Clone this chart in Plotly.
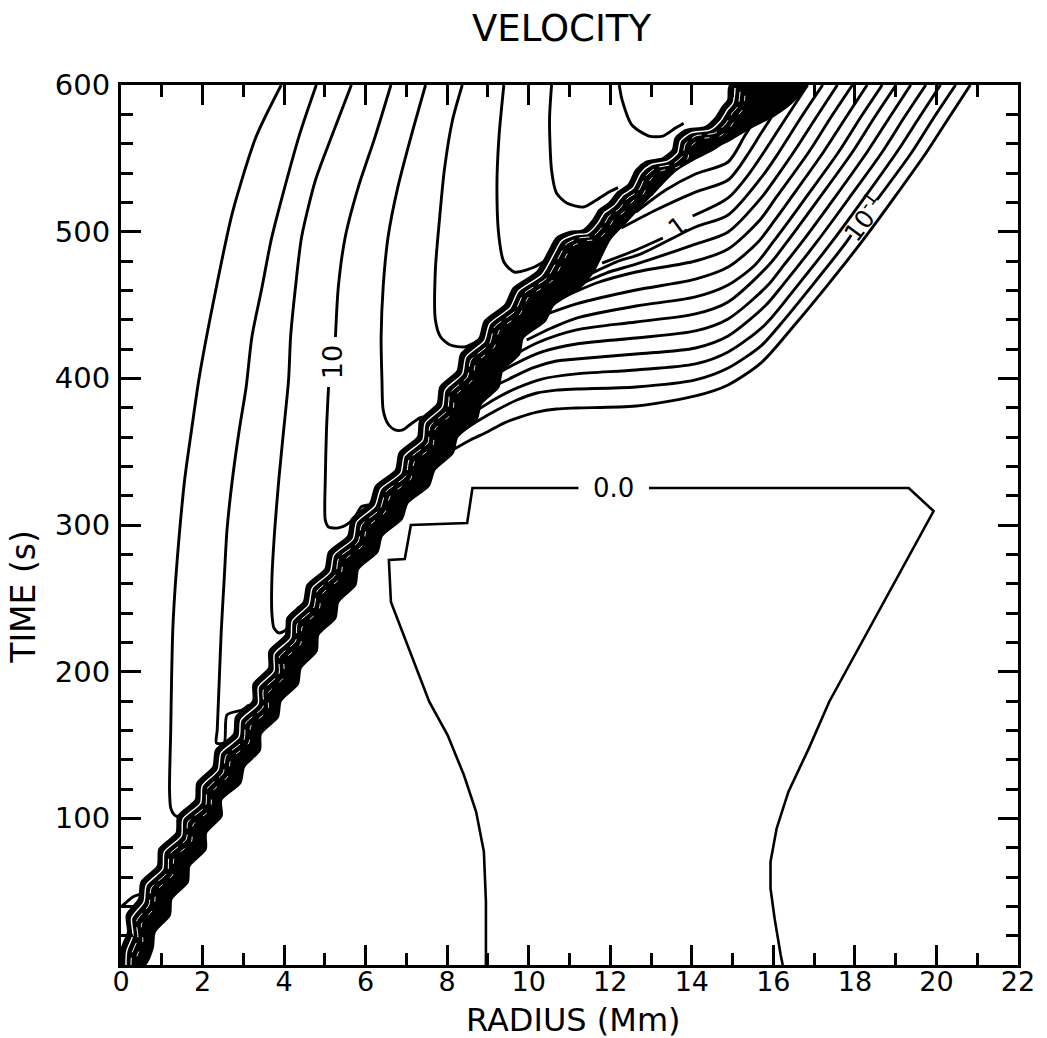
import plotly.graph_objects as go

# ---------------- axes / ticks ----------------
x_ticks = [0, 2, 4, 6, 8, 10, 12, 14, 16, 18, 20, 22]
t_ticks = [100, 200, 300, 400, 500, 600]

# ---------------- shock band (upper-left edge, bottom -> top) ----------------
band_ul_x = [0.00, 0.02, 0.17, 0.14, 0.44, 0.50, 0.90, 0.94, 1.36, 1.40, 1.83, 1.87, 2.26, 2.33, 2.77, 2.82,
             3.24, 3.25, 3.63, 3.64, 4.04, 4.08, 4.48, 4.57, 5.01, 5.10, 5.57, 5.66, 6.11, 6.25, 6.74, 6.83,
             7.28, 7.34, 7.76, 7.83, 8.25, 8.34, 8.79, 8.92, 9.42, 9.63, 10.20, 10.51, 10.68, 11.00, 11.34,
             11.58, 11.73, 11.97, 12.19, 12.44, 12.63, 12.87, 13.29, 13.53, 13.60, 13.85, 14.33, 14.58, 14.75,
             14.89, 14.94]
band_ul_t = [2.0, 11.6, 22.5, 34.1, 45.0, 56.6, 67.5, 79.1, 90.0, 101.6, 112.5, 124.1, 135.0, 146.6, 157.5, 169.1,
             180.0, 191.6, 202.5, 214.1, 225.0, 236.6, 247.5, 259.1, 270.0, 281.6, 292.5, 304.1, 315.0, 326.6,
             337.5, 349.1, 360.0, 371.6, 382.5, 394.1, 405.0, 416.6, 427.5, 439.1, 450.0, 461.6, 472.5, 487.5,
             495.7, 499.8, 501.1, 508.0, 514.8, 519.5, 527.0, 531.8, 542.0, 547.5, 550.2, 555.7, 563.9, 569.3,
             571.4, 577.5, 585.0, 589.8, 600.0]
# lower-right edge, top -> bottom
band_lr_x = [16.77, 16.52, 16.04, 15.43, 14.94, 14.46, 13.92, 13.41, 13.12, 12.75, 12.39, 12.00, 11.58, 11.25,
             10.61, 10.40, 9.86, 9.77, 9.35, 9.26, 8.83, 8.72, 8.25, 8.14, 7.69, 7.55, 7.03, 6.89, 6.40, 6.29,
             5.82, 5.75, 5.33, 5.26, 4.84, 4.80, 4.41, 4.34, 3.92, 3.85, 3.43, 3.41, 3.02, 2.93, 2.46, 2.47,
             2.09, 2.08, 1.68, 1.64, 1.24, 1.20, 0.83, 0.78, 0.58, 0.00]
band_lr_t = [600.0, 589.8, 579.5, 570.7, 562.5, 555.7, 547.5, 538.6, 528.4, 517.5, 506.6, 495.0, 472.5, 461.6,
             450.0, 439.1, 427.5, 416.6, 405.0, 394.1, 382.5, 371.6, 360.0, 349.1, 337.5, 326.6, 315.0, 304.1,
             292.5, 281.6, 270.0, 259.1, 247.5, 236.6, 225.0, 214.1, 202.5, 191.6, 180.0, 169.1, 157.5, 146.6,
             135.0, 124.1, 112.5, 101.6, 90.0, 79.1, 67.5, 56.6, 45.0, 34.1, 22.5, 11.6, 0.0, 0.0]

# ---------------- U-shaped contours behind the front ----------------
u0_x = [0.00, 0.29, 0.58, 0.71]
u0_t = [39.5, 46.4, 49.8, 58.0]
u1_x = [3.93, 3.31, 2.73, 2.29, 1.92, 1.73, 1.56, 1.44, 1.34, 1.27, 1.24, 1.22, 1.19, 1.22, 1.31, 1.48, 1.68, 1.80]
u1_t = [600, 564.5, 512.7, 455.4, 400.9, 364.8, 330.7, 296.6, 262.5, 228.4, 194.3, 160.2, 119.3, 107.0, 102.3,
        100.2, 102.3, 109.0]
u2_x = [4.79, 4.36, 3.70, 3.46, 3.21, 3.07, 2.90, 2.73, 2.60, 2.53, 2.46, 2.41, 2.36, 2.34, 2.53, 2.60, 2.97, 3.14]
u2_t = [600, 564.5, 496.4, 462.3, 428.2, 394.1, 364.8, 330.7, 296.6, 262.5, 228.4, 194.3, 160.2, 151.4, 151.4,
        170.5, 173.9, 177.3]
u3_x = [5.65, 5.16, 4.77, 4.43, 4.28, 4.16, 4.11, 3.99, 3.87, 3.77, 3.70, 3.70, 3.75, 3.87, 4.04, 4.16, 4.36]
u3_t = [600, 564.5, 535.2, 496.4, 462.3, 428.2, 398.9, 364.8, 330.7, 296.6, 262.5, 240.0, 229.8, 226.4, 228.4,
        235.2, 244.1]
u4a_x = [6.62, 6.23, 5.82, 5.50, 5.33, 5.26]
u4a_t = [600, 564.5, 530.4, 496.4, 462.3, 428.2]
u4b_x = [5.09, 5.04, 5.01, 5.01, 5.09, 5.33, 5.52, 5.74, 5.89, 6.06]
u4b_t = [394.1, 364.8, 330.7, 303.4, 298.6, 298.0, 300.0, 305.5, 312.3, 313.6]
u5_x = [7.47, 7.11, 6.79, 6.55, 6.43, 6.38, 6.40, 6.43, 6.55, 6.72, 6.91, 7.11, 7.33, 7.42]
u5_t = [600, 564.5, 530.4, 496.4, 462.3, 428.2, 398.9, 378.4, 368.9, 364.8, 364.8, 368.9, 373.0, 373.6]
u6_x = [8.37, 8.13, 7.93, 7.81, 7.71, 7.71, 7.84, 8.08, 8.42, 8.66, 8.98]
u6_t = [600, 576.0, 542.0, 508.0, 474.0, 440.0, 428.2, 422.7, 421.4, 424.1, 429.5]
u7_x = [9.39, 9.27, 9.22, 9.27, 9.39, 9.64, 9.95, 10.32, 10.61]
u7_t = [600, 564.5, 530.4, 496.4, 479.3, 472.5, 473.9, 478.6, 486.1]
u8_x = [10.56, 10.51, 10.56, 10.68, 10.93, 11.34, 11.66, 11.97, 12.19]
u8_t = [600, 576.0, 542.0, 526.4, 519.5, 516.8, 521.6, 527.0, 530.0]
u9_x = [12.22, 12.29, 12.53, 12.95, 13.29, 13.60, 13.80]
u9_t = [600, 589.8, 572.7, 565.2, 565.2, 570.7, 574.0]

# ---------------- contours ahead of the front ----------------
f1_x = [8.13, 8.57, 8.98, 9.39, 9.78, 10.20, 10.68, 11.17, 12.63, 14.09, 14.89, 15.72, 16.52, 17.33, 18.16, 18.96,
        19.76, 20.30, 20.83]
f1_t = [351.1, 358.0, 363.4, 369.5, 373.6, 377.0, 379.1, 379.8, 381.1, 388.0, 395.5, 411.1, 436.4, 463.6, 492.8,
        523.0, 554.3, 577.5, 600]
f2a_x = [8.40, 8.79, 9.22, 9.71, 10.20, 10.68, 11.17, 12.63, 14.09, 14.89, 15.72, 16.16, 16.96, 17.79, 17.91]
f2a_t = [364.8, 371.6, 378.4, 385.2, 390.0, 392.0, 392.7, 394.1, 398.9, 407.0, 422.7, 436.4, 463.6, 492.8, 497.7]
f2b_x = [18.54, 19.40, 19.93, 20.47]
f2b_t = [521.6, 554.3, 577.5, 600]
f3_x = [8.74, 9.22, 9.71, 10.32, 11.17, 12.63, 14.09, 14.89, 15.79, 16.60, 17.43, 18.23, 19.03, 19.57, 20.10]
f3_t = [378.4, 386.6, 393.4, 399.5, 403.0, 405.7, 409.8, 418.0, 436.4, 463.6, 492.8, 523.0, 554.3, 577.5, 600]
f4_x = [9.05, 9.47, 10.08, 10.68, 11.17, 12.63, 14.09, 14.89, 15.82, 16.23, 17.06, 17.86, 18.67, 19.20, 19.74]
f4_t = [393.4, 398.9, 407.0, 411.8, 413.2, 416.6, 420.7, 428.9, 450.0, 463.6, 492.8, 523.0, 554.3, 577.5, 600]
f5_x = [9.35, 9.71, 10.32, 11.17, 12.63, 14.09, 14.89, 15.87, 16.26, 16.70, 17.50, 18.30, 18.84, 19.37]
f5_t = [405.0, 410.5, 418.0, 423.4, 427.5, 432.3, 440.5, 463.6, 477.3, 492.8, 523.0, 554.3, 577.5, 600]
f6_x = [9.69, 10.20, 11.17, 12.63, 14.09, 14.89, 15.89, 16.33, 17.13, 17.94, 18.47, 19.01]
f6_t = [416.6, 424.1, 433.0, 438.4, 443.9, 452.1, 477.3, 492.8, 523.0, 554.3, 577.5, 600]
f7_x = [9.95, 10.56, 11.17, 12.63, 14.09, 14.89, 15.55, 15.99, 16.40, 16.79, 17.60, 18.13, 18.67]
f7_t = [426.1, 434.3, 441.1, 449.3, 455.5, 463.6, 477.3, 492.8, 508.0, 523.0, 554.3, 577.5, 600]
f8_x = [10.39, 11.17, 12.63, 14.09, 14.89, 15.62, 16.04, 16.43, 17.23, 17.77, 18.30]
f8_t = [443.2, 450.7, 460.2, 467.7, 475.9, 492.8, 508.0, 523.0, 554.3, 577.5, 600]
f9_x = [10.81, 11.66, 12.63, 14.09, 14.89, 15.67, 16.06, 16.87, 17.40, 17.94]
f9_t = [454.8, 465.0, 472.5, 480.0, 488.2, 508.0, 523.0, 554.3, 577.5, 600]
f10_x = [11.12, 11.90, 12.63, 14.09, 14.89, 15.70, 16.11, 16.50, 17.04, 17.57]
f10_t = [462.3, 471.8, 477.9, 491.5, 499.8, 523.0, 538.6, 554.3, 577.5, 600]
f11_x = [11.46, 12.14, 12.75, 14.09, 14.89, 15.75, 16.14, 16.67, 17.21]
f11_t = [470.5, 479.3, 484.8, 503.2, 511.4, 538.6, 554.3, 577.5, 600]
f12a_x = [11.80, 12.63, 13.29]
f12a_t = [478.6, 487.5, 495.7]
f12b_x = [14.02, 14.89, 15.38, 15.77, 16.31, 16.84]
f12b_t = [510.7, 523.0, 538.6, 554.3, 577.5, 600]
f13_x = [12.27, 13.12, 14.09, 14.89, 15.41, 15.67, 15.94, 16.48]
f13_t = [502.5, 514.8, 527.0, 535.2, 554.3, 565.9, 577.5, 600]
f14_x = [12.63, 13.36, 14.09, 14.89, 15.31, 15.58, 15.87, 16.11]
f14_t = [513.4, 528.4, 539.3, 547.5, 565.9, 577.5, 589.8, 600]
f15_x = [13.00, 13.60, 14.09, 14.63, 15.21, 15.50, 15.75]
f15_t = [525.0, 542.0, 550.2, 558.4, 577.5, 589.8, 600]

# ---------------- zero-velocity contour ----------------
zero_a_x = [8.95, 8.95, 8.90, 8.71, 8.41, 8.01, 7.56, 6.62, 6.57, 6.96, 7.11, 8.49, 8.62, 11.22]
zero_a_t = [0, 43.2, 77.2, 104.5, 129.5, 156.8, 179.5, 247.5, 276.1, 276.8, 300.0, 301.4, 325.2, 325.2]
zero_b_x = [12.95, 19.32, 19.93, 17.37, 16.87, 16.37, 16.08, 15.93, 15.93, 16.03, 16.18, 16.23]
zero_b_t = [325.2, 325.2, 309.5, 179.5, 147.7, 118.2, 93.1, 70.4, 52.2, 31.8, 6.8, 0]

# ---------------- contour labels ----------------
label_text = ["10", "0.0", "1", "10<sup>-1</sup>"]
label_x = [5.18, 12.09, 13.66, 18.22]
label_t = [411.1, 325.2, 503.2, 509.6]
label_angle = [-90, 0, -36, -53]
label_size = [27, 26, 25, 25]

# =====================================================================
FONT = "DejaVu Sans, Liberation Sans, Arial, sans-serif"
PX_PER_MM = 904 / 22.0
PX_PER_S = 880 / 600.0

fig = go.Figure()


def line(x, t, width=2.9, shape="spline", color="black", xa="x", ya="y", dash="solid", smoothing=0.8):
    fig.add_trace(go.Scatter(x=x, y=t, mode="lines", xaxis=xa, yaxis=ya, hoverinfo="skip", showlegend=False,
                             line=dict(color=color, width=width, shape=shape, smoothing=smoothing, dash=dash)))


# shock band as a filled region
fig.add_trace(go.Scatter(x=band_ul_x + band_lr_x, y=band_ul_t + band_lr_t, mode="lines", fill="toself",
                         fillcolor="black", hoverinfo="skip", showlegend=False,
                         line=dict(color="black", width=2, shape="spline", smoothing=0.7)))

for xs, ts in [(u0_x, u0_t), (u1_x, u1_t), (u2_x, u2_t), (u3_x, u3_t), (u4a_x, u4a_t), (u4b_x, u4b_t),
               (u5_x, u5_t), (u6_x, u6_t), (u7_x, u7_t), (u8_x, u8_t), (u9_x, u9_t)]:
    line(xs, ts, smoothing=0.7)

for xs, ts in [(f1_x, f1_t), (f2a_x, f2a_t), (f2b_x, f2b_t), (f3_x, f3_t), (f4_x, f4_t), (f5_x, f5_t),
               (f6_x, f6_t), (f7_x, f7_t), (f8_x, f8_t), (f9_x, f9_t), (f10_x, f10_t), (f11_x, f11_t),
               (f12a_x, f12a_t), (f12b_x, f12b_t), (f13_x, f13_t), (f14_x, f14_t), (f15_x, f15_t)]:
    line(xs, ts, smoothing=0.8)

line(zero_a_x, zero_a_t, width=2.6, shape="linear")
line(zero_b_x, zero_b_t, width=2.6, shape="linear")

layout_extra = {}
# thin white gaps between the packed contours of the front (same edge, drawn slightly inside the band)
streaks = [(5, 3, 1.4, "solid"), (10, 6, 1.0, "10px,6px"), (15, 9, 0.9, "5px,10px")]
for i, (dxp, dyp, w, dsh) in enumerate(streaks, start=2):
    layout_extra[f"xaxis{i}"] = dict(overlaying="x", range=[-dxp / PX_PER_MM, 22 - dxp / PX_PER_MM],
                                     visible=False, showgrid=False, zeroline=False)
    layout_extra[f"yaxis{i}"] = dict(overlaying="y", range=[dyp / PX_PER_S, 600 + dyp / PX_PER_S],
                                     visible=False, showgrid=False, zeroline=False)
    line(band_ul_x, band_ul_t, width=w, color="white", xa=f"x{i}", ya=f"y{i}", dash=dsh, smoothing=0.7)

annotations = []
for txt, lx, lt, ang, sz in zip(label_text, label_x, label_t, label_angle, label_size):
    annotations.append(dict(x=lx, y=lt, xref="x", yref="y", text=txt, showarrow=False, textangle=ang,
                            font=dict(family=FONT, size=sz, color="black")))

annotations.append(dict(x=(565 - 121) / 904, y=(965 - 29) / 880, xref="paper", yref="paper", text="VELOCITY",
                        showarrow=False, font=dict(family=FONT, size=37, color="black"),
                        xanchor="center", yanchor="middle"))
annotations.append(dict(x=(577 - 121) / 904, y=(965 - 1020) / 880, xref="paper", yref="paper",
                        text="RADIUS (Mm)", showarrow=False, font=dict(family=FONT, size=32, color="black"),
                        xanchor="center", yanchor="middle"))
annotations.append(dict(x=(22 - 121) / 904, y=(965 - 597) / 880, xref="paper", yref="paper",
                        text="TIME (s)", showarrow=False, textangle=-90,
                        font=dict(family=FONT, size=33, color="black"),
                        xanchor="center", yanchor="middle"))

fig.update_layout(
    width=1047, height=1038,
    margin=dict(l=121, r=22, t=85, b=73),
    paper_bgcolor="white", plot_bgcolor="white",
    showlegend=False,
    font=dict(family=FONT, color="black"),
    annotations=annotations,
    xaxis=dict(range=[0, 22], tickvals=x_ticks, ticks="inside", ticklen=20, tickwidth=3, tickcolor="black",
               showline=True, linewidth=3, linecolor="black", mirror="allticks", showgrid=False,
               zeroline=False, tickfont=dict(family=FONT, size=27, color="black"), ticklabelstandoff=-9,
               minor=dict(dtick=1, tick0=0, ticks="inside", ticklen=12, tickwidth=3, tickcolor="black",
                          showgrid=False)),
    yaxis=dict(range=[0, 600], tickvals=t_ticks, ticks="inside", ticklen=20, tickwidth=3, tickcolor="black",
               showline=True, linewidth=3, linecolor="black", mirror="allticks", showgrid=False,
               zeroline=False, tickfont=dict(family=FONT, size=29, color="black"), ticklabelstandoff=2,
               minor=dict(dtick=20, tick0=0, ticks="inside", ticklen=12, tickwidth=3, tickcolor="black",
                          showgrid=False)),
    **layout_extra,
)

fig.write_html("out.html")
